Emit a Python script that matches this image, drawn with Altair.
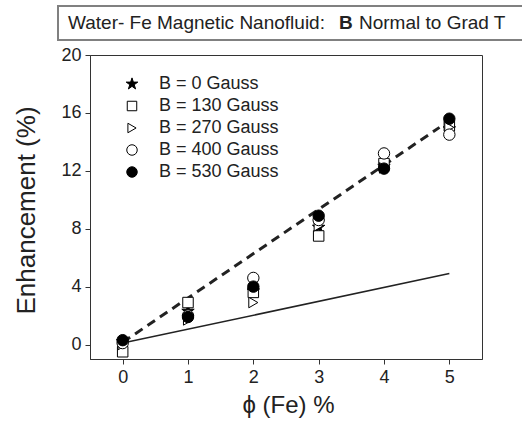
import altair as alt
import pandas as pd

# ---- data ----
series = ["B = 0 Gauss", "B = 130 Gauss", "B = 270 Gauss", "B = 400 Gauss", "B = 530 Gauss"]
phi = [0, 1, 2, 3, 4, 5]
enh_0 = [0.2, 2.3, 3.7, 8.1, 12.3, 14.9]
enh_130 = [-0.5, 2.9, 3.6, 7.5, 12.5, 15.1]
enh_270 = [0.0, 1.7, 2.9, 8.2, 12.2, 15.0]
enh_400 = [0.1, 2.0, 4.6, 8.6, 13.2, 14.5]
enh_530 = [0.3, 1.9, 4.0, 8.9, 12.15, 15.6]
STAR = ("M0,-1L0.225,-0.309L0.951,-0.309L0.363,0.118L0.588,0.809L0,0.382"
        "L-0.588,0.809L-0.363,0.118L-0.951,-0.309L-0.225,-0.309Z")
shapes = [STAR, "square", "triangle-right", "circle", "circle"]
fills = ["black", "white", "white", "white", "black"]
sizes = [170, 110, 110, 130, 130]

fit_x = [0, 4.85]
fit_y = [0.15, 15.0]
model_x = [0, 5]
model_y = [0.1, 4.9]

x_ticks = [0, 1, 2, 3, 4, 5]
y_ticks = [0, 2, 4, 6, 8, 10, 12, 14, 16, 18, 20]

title_parts = ["Water- Fe Magnetic Nanofluid:", "B", "Normal to Grad T"]

FONT = "Liberation Sans"

xscale = alt.Scale(domain=[-0.5, 5.5], nice=False, zero=False)
yscale = alt.Scale(domain=[-1, 20], nice=False, zero=False)

xaxis = alt.Axis(title="ϕ (Fe) %", values=x_ticks, grid=False, tickSize=5, format="d",
                 labelFont=FONT, titleFont=FONT, labelColor="#222", titleColor="#222",
                 domainColor="#333", tickColor="#333", titleFontWeight="normal",
                 labelFontSize=18, titleFontSize=24, labelPadding=4, labelFlush=False,
                 titleX=198, titleY=46, titleBaseline="middle")
yaxis = alt.Axis(title="Enhancement (%)", values=y_ticks, grid=False, tickSize=5, format="d",
                 labelFont=FONT, titleFont=FONT, labelColor="#222", titleColor="#222",
                 domainColor="#333", tickColor="#333", titleFontWeight="normal",
                 labelFontSize=18, titleFontSize=26, labelPadding=4, labelFlush=False,
                 titleX=-64, titleY=155, titleBaseline="middle")

model_line = alt.Chart(pd.DataFrame({"phi": model_x, "enh": model_y})).mark_line(
    color="#222", strokeWidth=1.5).encode(
    x=alt.X("phi:Q", scale=xscale, axis=xaxis), y=alt.Y("enh:Q", scale=yscale, axis=yaxis))
fit_line = alt.Chart(pd.DataFrame({"phi": fit_x, "enh": fit_y})).mark_line(
    color="#222", strokeWidth=3, strokeDash=[9, 6]).encode(
    x=alt.X("phi:Q", scale=xscale), y=alt.Y("enh:Q", scale=yscale))

layers = [model_line, fit_line]
for i, (name, vals) in enumerate(zip(series, [enh_0, enh_130, enh_270, enh_400, enh_530])):
    df = pd.DataFrame({"phi": phi, "enh": vals})
    layers.append(
        alt.Chart(df).mark_point(shape=shapes[i], size=sizes[i], fill=fills[i], stroke="black",
                                 strokeWidth=1, opacity=1, fillOpacity=1).encode(
            x=alt.X("phi:Q", scale=xscale), y=alt.Y("enh:Q", scale=yscale))
    )

# legend built from the series list
for i, name in enumerate(series):
    ly = 29 + 22 * i
    layers.append(
        alt.Chart(pd.DataFrame({"s": [name]})).mark_point(
            shape=shapes[i], size=sizes[i] - 20, fill=fills[i], stroke="black",
            strokeWidth=1, opacity=1, fillOpacity=1).encode(
            x=alt.value(42), y=alt.value(ly))
    )
    layers.append(
        alt.Chart(pd.DataFrame({"s": [name]})).mark_text(
            align="left", baseline="middle", fontSize=18, font=FONT, color="#222").encode(
            text="s:N", x=alt.value(69), y=alt.value(ly))
    )

# title box
layers.append(alt.Chart(pd.DataFrame({"a": [0]})).mark_rect(
    fill="white", stroke="#808080", strokeWidth=2).encode(
    x=alt.value(-32), x2=alt.value(445), y=alt.value(-49), y2=alt.value(-15)))
for txt, xpos, wt in zip(title_parts, [-22, 249, 269], ["normal", "bold", "normal"]):
    layers.append(alt.Chart(pd.DataFrame({"t": [txt]})).mark_text(
        align="left", baseline="middle", fontSize=19, font=FONT, fontWeight=wt, color="#222").encode(
        text="t:N", x=alt.value(xpos), y=alt.value(-32)))

chart = alt.layer(*layers).properties(
    width=392, height=304,
    background="white",
    autosize=alt.AutoSizeParams(type="none"),
    padding={"left": 90, "top": 55, "right": 40, "bottom": 66},
).configure_view(stroke="#333", strokeWidth=1)

chart.save("out.html", embed_options={"renderer": "svg", "actions": False})
